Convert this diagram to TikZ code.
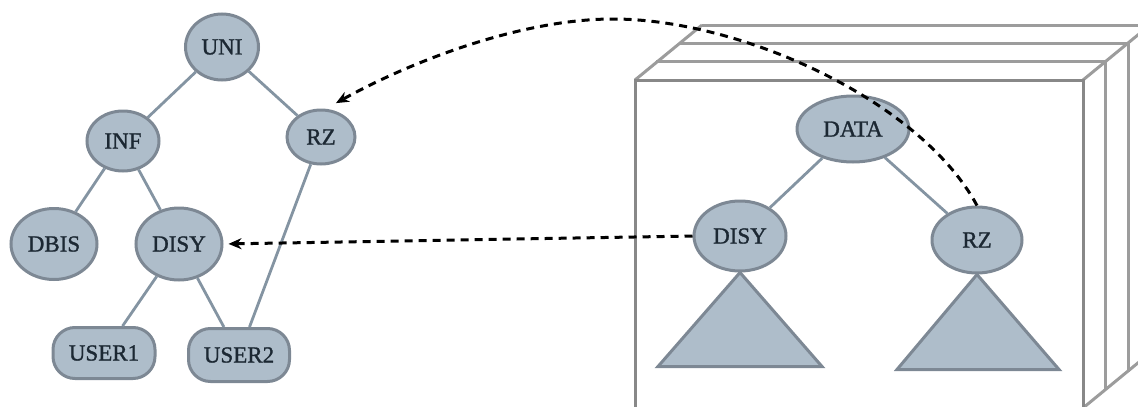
\documentclass[tikz,border=0pt]{standalone}
\usepackage{fontspec}
\setmainfont{Liberation Serif}
\newfontfamily\labelfont[FakeBold=1.2]{Liberation Serif}
\usetikzlibrary{shapes.geometric,arrows.meta}
\definecolor{nodefill}{HTML}{AEBDCA}
\definecolor{nodeline}{HTML}{7D8894}
\definecolor{edgeline}{HTML}{8494A2}
\definecolor{boxline}{HTML}{888888}
\definecolor{boxback}{HTML}{9C9C9C}
\definecolor{nodetext}{HTML}{1C2833}

\begin{document}
\begin{tikzpicture}[x=1pt,y=1pt]
\tikzstyle{every node}+=[inner sep=0pt]
\tikzstyle{knot}=[ellipse, draw=nodeline, fill=nodefill, line width=3pt, text=nodetext, font=\labelfont\fontsize{23}{27}\selectfont]
\tikzstyle{leaf}=[knot, rectangle, rounded corners=22pt]
\tikzstyle{branch}=[draw=edgeline, line width=2.8pt]
\tikzstyle{stack}=[draw=boxline, line width=3pt]
\tikzstyle{link}=[draw=black, line width=3pt, dash pattern=on 8pt off 6pt, -{Stealth[length=13pt,width=11pt]}]
\clip (0,0) rectangle (1138,-407);
% pages behind the front face
\draw [stack, draw=boxback] (702,-25) -- (1160,-25);
\draw [stack, draw=boxback] (679,-43) -- (1128,-43) -- (1128,-372);
\draw [stack, draw=boxback] (656,-61) -- (1105,-61) -- (1105,-390);
\draw [stack, draw=boxback] (635,-80) -- (702,-25);
\draw [stack, draw=boxback] (1083,-80) -- (1150,-25);
\draw [stack, draw=boxback] (1083,-408) -- (1150,-353);
% front face
\draw [stack] (635,-420) -- (635,-80) -- (1083,-80) -- (1083,-420);
% left tree
\node [knot, minimum width=73pt, minimum height=66pt] (uni) at (222,-47) {UNI};
\node [knot, minimum width=72pt, minimum height=60pt] (inf) at (123,-141) {INF};
\node [knot, minimum width=68pt, minimum height=54pt] (rz1) at (321,-137) {RZ};
\node [knot, minimum width=86pt, minimum height=71pt] (dbis) at (54,-244) {DBIS};
\node [knot, minimum width=86pt, minimum height=72pt] (disy1) at (179,-244) {DISY};
\node [leaf, minimum width=102pt, minimum height=51pt] (user1) at (104,-353) {USER1};
\node [leaf, minimum width=101pt, minimum height=53pt] (user2) at (239,-355) {USER2};
\draw [branch] (uni) -- (inf);
\draw [branch] (uni) -- (rz1);
\draw [branch] (inf) -- (dbis);
\draw [branch] (inf) -- (disy1);
\draw [branch] (disy1) -- (user1);
\draw [branch] (disy1) -- (user2);
\draw [branch] (rz1) -- (user2);
% right tree with its subtrees
\node [knot, minimum width=112pt, minimum height=66pt] (data) at (853,-129) {DATA};
\node [knot, minimum width=92pt, minimum height=70pt] (disy2) at (740,-236) {DISY};
\node [knot, minimum width=90pt, minimum height=66pt] (rz2) at (977,-240) {RZ};
\draw [branch] (data) -- (disy2);
\draw [branch] (data) -- (rz2);
\draw [knot, line join=miter] (disy2.south) -- ++(-82,-94) -- ++(164,0) -- cycle;
\draw [knot, line join=miter] (rz2.south) -- ++(-80,-95) -- ++(162,0) -- cycle;
% references back into the left tree
\draw [link, shorten >=5pt] (disy2.west) -- (disy1.east);
\draw [link] (rz2.north) .. controls (920,-100) and (740,-19) .. (613,-19)
  .. controls (520,-19) and (410,-62) .. ([yshift=8pt]rz1.60);
\end{tikzpicture}
\end{document}
